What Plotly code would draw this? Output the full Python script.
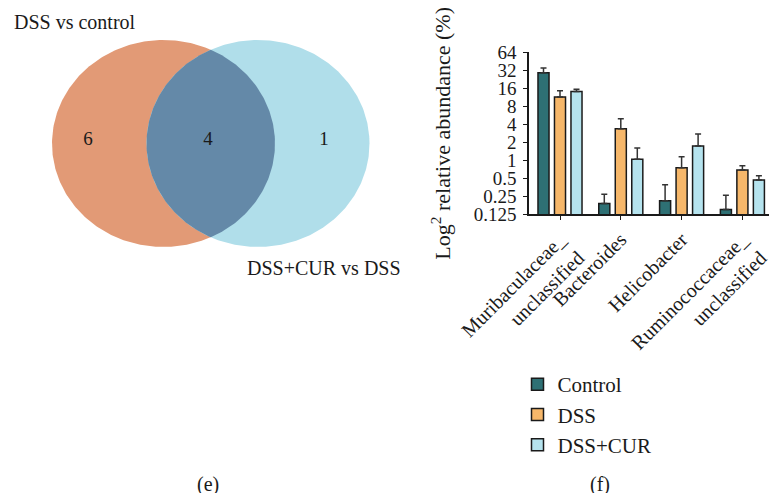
import numpy as np
import plotly.graph_objects as go

# ---- data ----
genera = ["Muribaculaceae_<br>unclassified", "Bacteroides", "Helicobacter",
          "Ruminococcaceae_<br>unclassified"]
groups = ["Control", "DSS", "DSS+CUR"]
control_mean = [29.0, 0.19, 0.21, 0.15]
control_sd = [5.8, 0.08, 0.18, 0.11]
dss_mean = [11.5, 3.37, 0.75, 0.69]
dss_sd = [3.0, 1.59, 0.40, 0.12]
cur_mean = [14.1, 1.04, 1.74, 0.47]
cur_sd = [1.3, 0.57, 1.00, 0.08]
y_ticks = [0.125, 0.25, 0.5, 1, 2, 4, 8, 16, 32, 64]
y_tick_text = ["0.125", "0.25", "0.5", "1", "2", "4", "8", "16", "32", "64"]

venn_sets = ["DSS vs control", "DSS+CUR vs DSS"]
venn_counts = [6, 4, 1]  # only first, shared, only second

W, H = 770, 493
FONT = "Liberation Serif, Times New Roman, serif"
bar_colors = ["#2e7074", "#f6b76a", "#b5e3ee"]

fig = go.Figure()

# ---- Venn diagram (drawn on a pixel-space overlay axis) ----
cx_left, cx_right, cy = 163.5, 258.0, 143.5
rx, ry = 111.5, 103.5
t = np.linspace(0, 2 * np.pi, 361)


def ellipse(cx):
    return cx + rx * np.cos(t), cy + ry * np.sin(t)


for cx, col in [(cx_left, "#e29a76"), (cx_right, "#b0deea")]:
    ex, ey = ellipse(cx)
    fig.add_trace(go.Scatter(x=ex, y=ey, xaxis="x2", yaxis="y2", mode="lines",
                             fill="toself", fillcolor=col, line=dict(width=0),
                             hoverinfo="skip", showlegend=False))

# lens where the two sets overlap
xm = (cx_left + cx_right) / 2
a = np.arccos((xm - cx_left) / rx)
th_l = np.linspace(-a, a, 120)                 # right arc of left ellipse
th_r = np.linspace(np.pi - a, np.pi + a, 120)  # left arc of right ellipse
lx = np.concatenate([cx_left + rx * np.cos(th_l), cx_right + rx * np.cos(th_r)])
ly = np.concatenate([cy + ry * np.sin(th_l), cy + ry * np.sin(th_r)])
fig.add_trace(go.Scatter(x=lx, y=ly, xaxis="x2", yaxis="y2", mode="lines",
                         fill="toself", fillcolor="#6489a8", line=dict(width=0),
                         hoverinfo="skip", showlegend=False))

fig.add_trace(go.Scatter(x=[88, 208, 324], y=[cy - 3] * 3, xaxis="x2", yaxis="y2",
                         mode="text", text=[str(v) for v in venn_counts],
                         textfont=dict(family=FONT, size=19, color="#1a1a1a"),
                         hoverinfo="skip", showlegend=False))

# ---- grouped bar chart ----
for name, mean, sd, col in zip(groups, [control_mean, dss_mean, cur_mean],
                               [control_sd, dss_sd, cur_sd], bar_colors):
    fig.add_trace(go.Bar(
        x=genera, y=mean, name=name, legendgroup=name,
        marker=dict(color=col, line=dict(color="#1a1a1a", width=1.5)),
        error_y=dict(type="data", symmetric=False, array=sd,
                     arrayminus=[0] * len(sd), color="#333333",
                     thickness=1.5, width=3),
    ))

venn_label_font = dict(family=FONT, size=20, color="#1a1a1a")
annotations = [
    dict(x=12, y=22, xref="x2", yref="y2", text=venn_sets[0], showarrow=False,
         xanchor="left", yanchor="middle", font=venn_label_font),
    dict(x=245, y=268, xref="x2", yref="y2", text=venn_sets[1], showarrow=False,
         xanchor="left", yanchor="middle", font=venn_label_font),
    dict(x=208, y=484, xref="x2", yref="y2", text="(e)", showarrow=False,
         xanchor="center", yanchor="middle", font=venn_label_font),
    dict(x=600, y=484, xref="x2", yref="y2", text="(f)", showarrow=False,
         xanchor="center", yanchor="middle", font=venn_label_font),
]

x_left, x_right = 529, 769
y_top, y_bottom = 52.3, 214.3
tick_step = 60.8
first_tick = 560

fig.update_layout(
    width=W, height=H,
    margin=dict(l=0, r=0, t=0, b=0, autoexpand=False),
    paper_bgcolor="white", plot_bgcolor="rgba(0,0,0,0)",
    font=dict(family=FONT, size=18, color="#1a1a1a"),
    barmode="group", bargap=0.186, bargroupgap=0.33,
    hovermode=False,
    xaxis=dict(domain=[x_left / W, x_right / W],
               range=[(x_left - first_tick) / tick_step,
                      (x_right - first_tick) / tick_step],
               automargin=False,
               showline=True, linecolor="#1a1a1a", linewidth=1.5,
               ticks="outside", ticklen=4, tickwidth=1.2, tickcolor="#1a1a1a",
               tickangle=-45, tickfont=dict(family=FONT, size=20),
               showgrid=False, zeroline=False),
    yaxis=dict(domain=[1 - y_bottom / H, 1 - y_top / H],
               type="log", range=[np.log10(0.125), np.log10(64)],
               automargin=False,
               tickvals=y_ticks, ticktext=y_tick_text,
               showline=True, linecolor="#1a1a1a", linewidth=1.5,
               ticks="outside", ticklen=4, tickwidth=1.2, tickcolor="#1a1a1a",
               tickfont=dict(family=FONT, size=19), ticklabelstandoff=3,
               title=dict(text="Log<sup>2</sup> relative abundance (%)",
                          font=dict(family=FONT, size=22), standoff=17),
               showgrid=False, zeroline=False),
    xaxis2=dict(domain=[0, 1], range=[0, W], visible=False, anchor="y2",
                automargin=False),
    yaxis2=dict(domain=[0, 1], range=[H, 0], visible=False, anchor="x2",
                automargin=False),
    legend=dict(x=517.5 / W, y=1 - 364 / H, xanchor="left", yanchor="top",
                font=dict(family=FONT, size=21), tracegroupgap=0,
                bgcolor="rgba(0,0,0,0)"),
    annotations=annotations,
)

fig.write_html("out.html")
